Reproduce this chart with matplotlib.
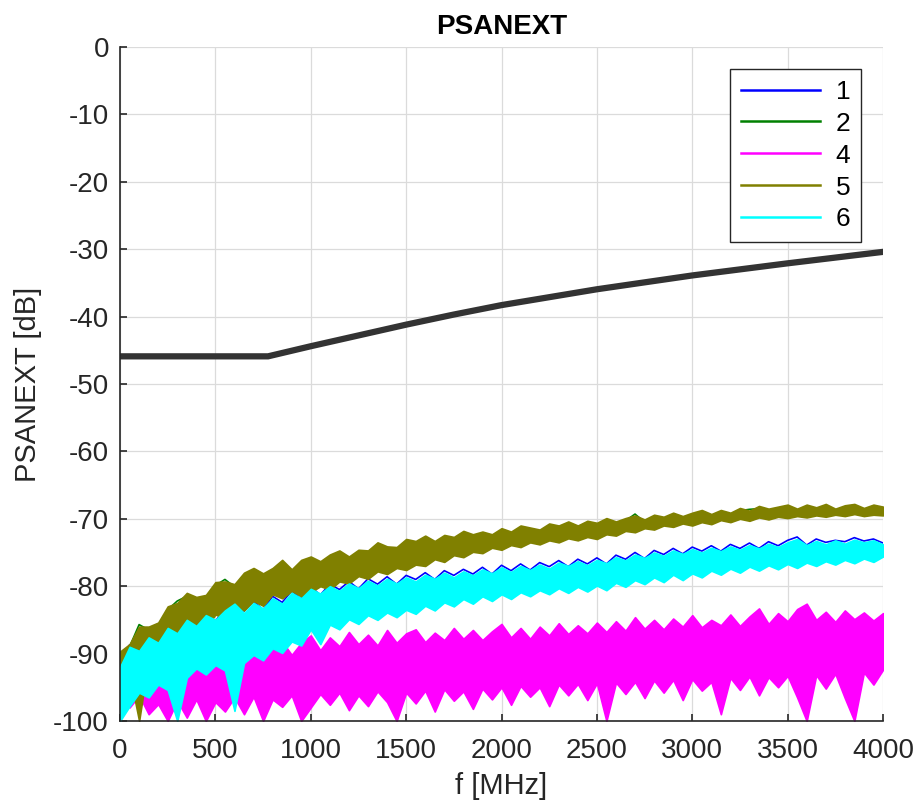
import numpy as np
import matplotlib
matplotlib.use("Agg")
import matplotlib.pyplot as plt
from matplotlib.lines import Line2D

plt.rcParams['font.family'] = ['Liberation Sans', 'DejaVu Sans']
plt.rcParams['axes.unicode_minus'] = False

# frequency grid of the read-off values [MHz]
freq = np.arange(0, 4001, 50)

# pair 5 (olive) upper / lower edge of the noise band [dB]
pair5_hi = [-89.7, -88.6, -86.0, -86.0, -85.4, -83.0, -82.5, -81.0, -81.6, -81.3,
            -79.4, -79.3, -79.7, -78.0, -77.3, -78.1, -77.3, -76.1, -77.5, -76.1,
            -75.6, -76.3, -75.3, -74.7, -75.6, -74.6, -74.7, -73.5, -74.1, -74.2,
            -73.0, -73.3, -72.5, -73.3, -72.4, -72.7, -71.8, -72.3, -71.9, -72.3,
            -71.4, -71.9, -71.0, -71.3, -71.6, -70.7, -71.0, -70.4, -71.0, -70.3,
            -70.6, -69.9, -70.4, -69.9, -69.5, -70.1, -69.4, -69.7, -69.1, -69.6,
            -69.1, -68.7, -69.3, -68.7, -69.1, -68.4, -68.8, -68.1, -68.5, -68.2,
            -67.9, -68.5, -67.9, -68.3, -67.8, -68.5, -68.0, -67.8, -68.4, -67.9,
            -68.2]
pair5_lo = [-97.5, -93.0, -100.0, -90.8, -88.6, -89.4, -87.0, -87.5, -85.6, -86.2,
            -84.2, -84.8, -83.0, -83.6, -82.2, -82.9, -81.2, -81.8, -80.7, -81.5,
            -80.9, -80.0, -80.5, -79.3, -79.6, -78.5, -78.9, -77.8, -78.2, -77.3,
            -77.6, -76.8, -77.0, -76.0, -76.4, -75.4, -75.7, -74.9, -75.1, -74.3,
            -74.6, -73.9, -74.2, -73.5, -73.8, -73.2, -73.5, -72.9, -73.2, -72.7,
            -73.0, -72.3, -72.5, -71.8, -72.0, -71.4, -71.6, -71.0, -71.2, -70.7,
            -71.0, -70.5, -70.8, -70.2, -70.5, -70.0, -70.3, -69.8, -70.1, -69.7,
            -69.9, -69.6, -69.8, -69.5, -69.7, -69.4, -69.6, -69.3, -69.6, -69.4,
            -69.5]

# pair 2 (green), almost hidden below pair 5
pair2 = [-90.2, -89.0, -85.7, -86.5, -85.9, -83.5, -82.2, -81.5, -82.0, -81.8,
         -79.9, -79.0, -80.1, -78.4, -77.7, -78.6, -77.7, -76.5, -77.9, -76.6,
         -76.0, -76.7, -75.7, -75.1, -76.0, -75.0, -75.1, -73.9, -74.5, -74.6,
         -73.4, -73.7, -72.9, -73.7, -72.8, -73.1, -72.2, -72.7, -72.3, -72.7,
         -71.8, -72.3, -71.4, -71.7, -72.0, -71.1, -71.4, -70.8, -71.4, -70.7,
         -71.0, -70.3, -70.8, -70.3, -69.3, -70.5, -69.8, -70.1, -69.5, -70.0,
         -69.5, -69.1, -69.7, -69.1, -69.5, -68.8, -68.6, -68.5, -68.9, -68.6,
         -68.3, -68.9, -68.3, -68.7, -68.2, -68.9, -68.4, -68.2, -68.8, -68.3,
         -68.6]

# pair 6 (cyan) upper / lower edge
pair6_hi = [-92.0, -89.0, -89.6, -87.6, -88.4, -86.2, -87.0, -85.0, -85.9, -84.3,
            -85.0, -83.6, -82.6, -84.0, -82.5, -83.3, -81.8, -82.6, -81.0, -81.8,
            -80.4, -81.1, -80.0, -80.7, -79.6, -80.3, -79.2, -79.9, -78.9, -79.6,
            -78.7, -79.3, -78.3, -78.9, -78.0, -78.7, -77.8, -78.4, -77.5, -78.1,
            -77.2, -77.9, -77.0, -77.6, -76.8, -77.4, -76.5, -77.0, -76.3, -76.9,
            -76.1, -76.6, -75.7, -76.2, -75.3, -75.8, -75.0, -75.5, -74.7, -75.2,
            -74.5, -75.0, -74.3, -74.8, -74.1, -74.6, -73.9, -74.4, -73.7, -74.2,
            -73.5, -73.0, -73.9, -73.3, -73.8, -73.2, -73.7, -73.1, -73.5, -73.2,
            -73.8]
pair6_lo = [-100.0, -97.8, -95.8, -96.5, -94.6, -95.4, -100.0, -93.6, -92.2, -93.1,
            -91.7, -92.5, -98.5, -91.4, -90.2, -91.0, -89.2, -89.9, -88.2, -88.8,
            -86.4, -88.6, -85.7, -86.4, -84.9, -85.6, -84.3, -85.0, -83.9, -84.6,
            -83.5, -84.1, -82.9, -83.6, -82.4, -83.0, -81.9, -82.6, -81.5, -82.2,
            -81.2, -81.9, -80.9, -81.5, -80.6, -81.2, -80.3, -81.0, -80.1, -80.8,
            -79.9, -80.6, -79.5, -80.1, -79.1, -79.7, -78.7, -79.4, -78.3, -79.1,
            -78.1, -78.7, -77.7, -78.3, -77.4, -78.0, -77.1, -77.7, -76.9, -77.5,
            -76.7, -77.3, -76.5, -77.0, -76.3, -76.8, -76.1, -76.6, -75.9, -76.4,
            -75.6]

# pair 1 (blue), almost hidden below pair 6
pair1 = [-92.3, -88.7, -89.9, -87.3, -88.6, -86.5, -86.7, -84.8, -86.0, -84.0,
         -85.2, -83.3, -82.9, -83.7, -82.2, -83.5, -81.5, -82.4, -80.7, -81.9,
         -80.1, -81.3, -79.7, -80.5, -79.3, -80.4, -78.9, -79.7, -78.6, -79.7,
         -78.4, -79.0, -78.0, -79.0, -77.7, -78.4, -77.5, -78.2, -77.2, -78.2,
         -76.9, -77.7, -76.7, -77.6, -76.5, -77.1, -76.2, -77.1, -76.0, -76.7,
         -75.8, -76.7, -75.4, -76.0, -75.0, -75.9, -74.7, -75.3, -74.4, -75.2,
         -74.2, -74.8, -74.0, -74.8, -73.8, -74.4, -73.6, -74.4, -73.4, -74.0,
         -73.2, -72.7, -73.9, -73.0, -73.5, -73.2, -73.4, -72.8, -73.3, -73.0,
         -73.6]

# pair 4 (magenta) upper / lower edge
pair4_hi = [-93.0, -89.5, -94.0, -92.8, -95.0, -91.5, -93.5, -90.3, -92.5, -90.8,
            -92.0, -89.6, -91.4, -90.2, -88.8, -91.0, -89.4, -88.2, -90.2, -88.4,
            -87.3, -89.5, -87.6, -88.9, -86.8, -88.6, -87.2, -88.8, -86.5, -88.4,
            -87.0, -86.4, -88.3, -86.9, -88.0, -86.2, -87.8, -86.5, -88.0, -86.7,
            -85.6, -87.6, -86.2, -87.8, -86.0, -87.3, -85.5, -87.1, -85.8, -87.0,
            -85.4, -86.8, -85.2, -86.6, -84.6, -86.3, -85.0, -86.4, -84.8, -86.0,
            -84.3, -86.1, -85.0, -85.8, -84.2, -85.9, -84.5, -83.3, -85.6, -84.0,
            -85.2, -83.4, -82.6, -85.0, -83.8, -85.3, -83.6, -84.9, -83.9, -85.1,
            -84.0]
pair4_lo = [-96.0, -98.0, -96.2, -99.0, -97.5, -100.0, -97.0, -99.5, -96.8, -100.0,
            -97.2, -98.6, -96.5, -99.0, -96.4, -100.0, -96.8, -97.9, -96.2, -100.0,
            -98.0, -96.0, -97.6, -95.8, -98.4, -96.2, -97.8, -95.6, -97.2, -100.0,
            -95.8, -97.4, -95.5, -98.6, -95.3, -97.0, -95.6, -98.2, -95.2, -96.8,
            -95.0, -97.6, -94.8, -96.4, -95.0, -97.8, -94.6, -96.2, -94.5, -96.9,
            -94.4, -100.0, -94.3, -96.0, -94.2, -96.6, -94.0, -95.8, -93.9, -96.9,
            -93.8, -95.5, -94.2, -99.0, -93.6, -95.4, -93.4, -96.2, -93.5, -95.0,
            -93.3, -96.5, -100.0, -93.2, -95.2, -93.0, -96.6, -100.0, -92.8, -94.6,
            -92.4]

# limit line
limit_f = [0, 776, 1000, 1250, 1500, 1750, 2000, 2500, 3000, 3500, 4000]
limit_db = [-45.9, -45.9, -44.4, -42.8, -41.2, -39.7, -38.3, -35.95, -33.9, -32.1, -30.4]

c_blue = (0, 0, 1)
c_green = (0, 0.5, 0)
c_magenta = (1, 0, 1)
c_olive = (0.5, 0.5, 0)
c_cyan = (0, 1, 1)
dark = (0.15, 0.15, 0.15)

fig = plt.figure(figsize=(9.17, 8.07), dpi=100)
ax = fig.add_axes([0.1309, 0.1066, 0.832, 0.8352])

# same stacking as the original plot order: 1, 2, 4, 5, 6, limit
ax.plot(freq, pair1, color=c_blue, lw=1.2, zorder=2.0)
ax.plot(freq, pair2, color=c_green, lw=1.2, zorder=2.1)
ax.fill_between(freq, pair4_lo, pair4_hi, color=c_magenta, lw=1.2, edgecolor=c_magenta, zorder=2.2)
ax.fill_between(freq, pair5_lo, pair5_hi, color=c_olive, lw=1.2, edgecolor=c_olive, zorder=2.3)
ax.fill_between(freq, pair6_lo, pair6_hi, color=c_cyan, lw=1.2, edgecolor=c_cyan, zorder=2.4)
ax.plot(limit_f, limit_db, color=(0.2, 0.2, 0.2), lw=4.5, solid_joinstyle='miter', zorder=2.5)

ax.set_xlim(0, 4000)
ax.set_ylim(-100, 0)
ax.set_xticks(np.arange(0, 4001, 500))
ax.set_yticks(np.arange(-100, 1, 10))
ax.grid(True, color=(0.86, 0.86, 0.86), lw=0.9)
ax.set_axisbelow(True)
for s in ['top', 'right']:
    ax.spines[s].set_visible(False)
for s in ['left', 'bottom']:
    ax.spines[s].set_color(dark)
    ax.spines[s].set_linewidth(1.2)
    ax.spines[s].set_zorder(3)
ax.tick_params(direction='in', length=5, width=1.2, colors=dark, labelsize=20)
ax.tick_params(axis='x', pad=12)
ax.tick_params(axis='y', pad=8)

ax.set_title('PSANEXT', fontsize=20, fontweight='bold', pad=9)
ax.set_xlabel('f [MHz]', fontsize=21, color=dark, labelpad=6)
ax.set_ylabel('PSANEXT [dB]', fontsize=21, color=dark, labelpad=8)

handles = [Line2D([], [], color=c, lw=1.8) for c in [c_blue, c_green, c_magenta, c_olive, c_cyan]]
leg = ax.legend(handles, ['1', '2', '4', '5', '6'], loc='upper right',
                bbox_to_anchor=(0.971, 0.967), borderaxespad=0, fontsize=19,
                handlelength=3.0, labelspacing=0.3, fancybox=False, framealpha=1,
                borderpad=0.4, handletextpad=0.6)
leg.get_frame().set_edgecolor(dark)
leg.get_frame().set_linewidth(1.0)

fig.savefig('out.png', dpi=100)
